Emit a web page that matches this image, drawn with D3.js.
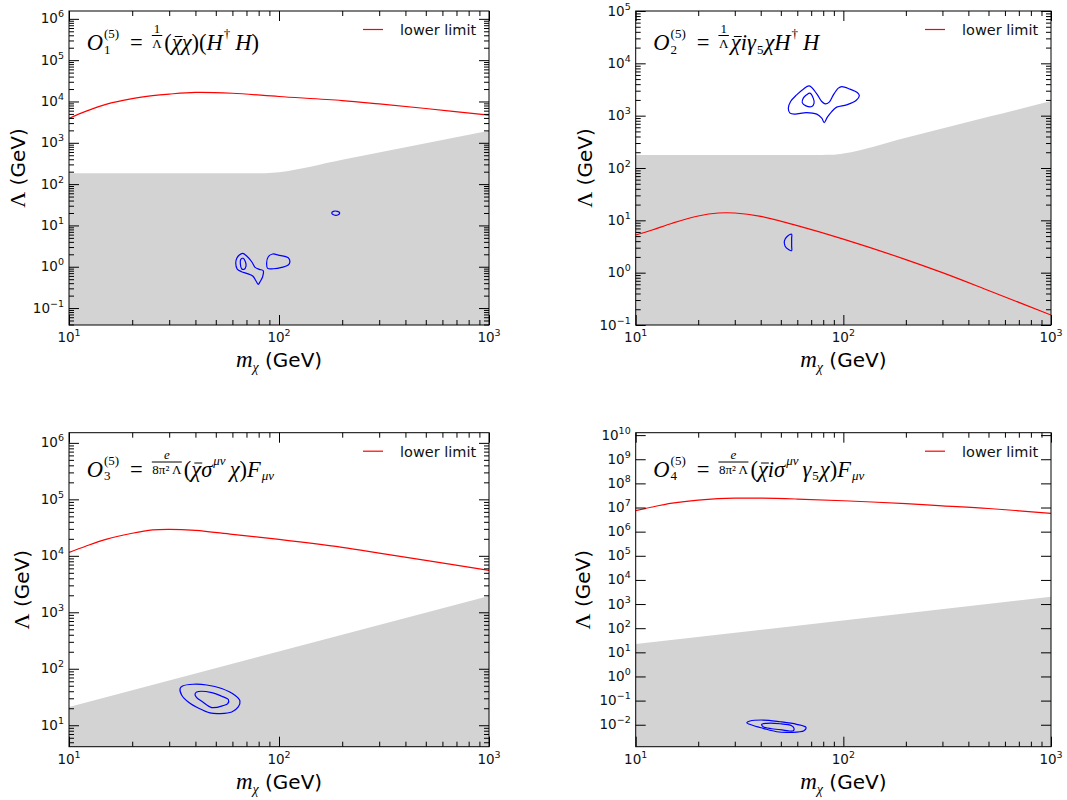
<!DOCTYPE html>
<html lang="en">
<head>
<meta charset="utf-8">
<title>Dimension-5 operators: lower limits on Lambda</title>
<script src="https://cdnjs.cloudflare.com/ajax/libs/d3/7.8.5/d3.min.js"></script>
<style>
	body { margin: 0; background: #fff; }
	text { font-family: "DejaVu Sans", sans-serif; }
	.math { font-family: "Liberation Serif", "DejaVu Serif", serif; }
</style>
</head>
<body>
<script>

//dark matter masses where the lower limit curves were read (GeV)
var massPts = [10, 12, 15, 20, 25, 30, 40, 60, 100, 200, 300, 500, 1000];

//lower limit on Lambda (GeV), one array per operator
var limitO1 = [3890, 5750, 8510, 11700, 13800, 15100, 16600, 15800, 13200, 10500, 8710, 6760, 4680];
var limitO2 = [5.25, 6.55, 8.81, 12.1, 13.8, 13.8, 11.9, 7.9, 4.37, 1.78, 1.00, 0.457, 0.155];
var limitO3 = [11500, 14800, 19500, 25100, 28800, 29500, 28200, 24000, 19500, 14100, 11200, 8320, 5500];
var limitO4 = [7.41e6, 1.05e7, 1.51e7, 2.04e7, 2.34e7, 2.45e7, 2.45e7, 2.24e7, 1.91e7, 1.45e7, 1.18e7, 9.1e6, 5.75e6];

//edge of the grey excluded band [m, Lambda]
var bandO1 = [[10, 182], [78, 182], [86, 183], [93, 188], [100, 195], [200, 390], [500, 975], [1000, 1950]];
var bandO2 = [[10, 178], [79, 178], [87, 179], [94, 184], [100, 190], [200, 380], [500, 950], [1000, 1900]];
var bandO3 = [[10, 21], [1000, 1950]];
var bandO4 = [[10, 22], [1000, 2000]];

//blue contours, each point is [log10 m, log10 Lambda]
var contoursO1 = [
	[[1.827,0.324],[1.846,0.259],[1.870,0.121],[1.886,-0.015],[1.906,-0.063],[1.925,-0.097],[1.922,-0.242],[1.910,-0.363],[1.901,-0.426],[1.890,-0.339],[1.875,-0.225],[1.846,-0.160],[1.822,-0.121],[1.801,-0.056],[1.794,0.082],[1.799,0.203],[1.811,0.283]],
	[[1.818,0.179],[1.830,0.203],[1.840,0.121],[1.843,0.017],[1.833,-0.063],[1.822,-0.048],[1.816,0.065]],
	[[1.941,0.082],[1.949,0.242],[1.970,0.308],[1.997,0.283],[2.044,0.218],[2.052,0.121],[2.044,0.041],[2.013,-0.015],[1.973,-0.048],[1.946,-0.039]],
	[[2.251,1.300],[2.259,1.341],[2.278,1.341],[2.289,1.307],[2.282,1.259],[2.262,1.252]]
];
var contoursO2 = [
	[[1.836,3.570],[1.872,3.417],[1.896,3.270],[1.912,3.226],[1.932,3.258],[1.952,3.398],[1.976,3.526],[1.992,3.556],[2.032,3.507],[2.067,3.442],[2.077,3.379],[2.061,3.289],[2.016,3.207],[1.968,3.163],[1.944,3.078],[1.923,2.971],[1.908,2.868],[1.896,2.952],[1.872,3.029],[1.823,3.059],[1.767,3.029],[1.743,3.048],[1.735,3.143],[1.746,3.270],[1.775,3.398],[1.807,3.507]],
	[[1.823,3.398],[1.839,3.430],[1.855,3.335],[1.859,3.239],[1.848,3.174],[1.820,3.187],[1.802,3.250],[1.807,3.335]],
	[[1.751,0.734],[1.729,0.692],[1.716,0.606],[1.719,0.511],[1.736,0.444],[1.751,0.421],[1.751,0.500],[1.751,0.580],[1.751,0.660]]
];
var contoursO3 = [
	[[1.529,1.650],[1.541,1.696],[1.592,1.726],[1.656,1.713],[1.727,1.650],[1.790,1.531],[1.814,1.430],[1.806,1.324],[1.775,1.235],[1.719,1.207],[1.671,1.218],[1.620,1.296],[1.568,1.412],[1.537,1.531]],
	[[1.600,1.549],[1.608,1.589],[1.680,1.579],[1.727,1.513],[1.759,1.455],[1.756,1.384],[1.735,1.349],[1.680,1.313],[1.637,1.412],[1.608,1.490]]
];
var contoursO4 = [
	[[1.535,-1.917],[1.550,-1.847],[1.614,-1.805],[1.695,-1.876],[1.775,-1.983],[1.820,-2.108],[1.810,-2.249],[1.743,-2.315],[1.679,-2.290],[1.614,-2.149],[1.559,-2.012]],
	[[1.607,-1.983],[1.631,-1.942],[1.695,-1.959],[1.751,-2.041],[1.762,-2.137],[1.759,-2.249],[1.711,-2.220],[1.655,-2.166],[1.614,-2.083]]
];

//operator formulas, laid out piece by piece (bar = overline)
var formulaO1 = [{s:"O",it:1},{sub:"1",sup:"(5)"},{gap:10},{s:"="},{gap:8},{frac:["1","Λ"]},{s:"("},{s:"χ",it:1,bar:1},{s:"χ",it:1},{s:")("},{s:"H",it:1},{sup:"†"},{gap:4},{s:"H",it:1},{s:")"}];
var formulaO2 = [{s:"O",it:1},{sub:"2",sup:"(5)"},{gap:10},{s:"="},{gap:8},{frac:["1","Λ"]},{s:"χ",it:1,bar:1},{s:"iγ",it:1},{sub:"5"},{s:"χH",it:1},{sup:"†"},{gap:4},{s:"H",it:1}];
var formulaO3 = [{s:"O",it:1},{sub:"3",sup:"(5)"},{gap:10},{s:"="},{gap:8},{frac:["e","8π²\u2009Λ"],numIt:1},{s:"("},{s:"χ",it:1,bar:1},{s:"σ",it:1},{sup:"μν"},{gap:3},{s:"χ",it:1},{s:")"},{s:"F",it:1},{sub:"μν"}];
var formulaO4 = [{s:"O",it:1},{sub:"4",sup:"(5)"},{gap:10},{s:"="},{gap:8},{frac:["e","8π²\u2009Λ"],numIt:1},{s:"("},{s:"χ",it:1,bar:1},{s:"iσ",it:1},{sup:"μν"},{gap:3},{s:"γ",it:1},{sub:"5"},{s:"χ",it:1},{s:")"},{s:"F",it:1},{sub:"μν"}];

//panel layout
var panels = [
	{left: 69, right: 489, top: 11, bottom: 325, yDom: [Math.pow(10,-1.41), Math.pow(10,6.19)], yMinor: true,
	 limit: limitO1, band: bandO1, contours: contoursO1, formula: formulaO1, fx: 86.7, fy: 50, labX: 24.5},
	{left: 635.7, right: 1051, top: 11, bottom: 325, yDom: [0.1, 1e5], yMinor: true,
	 limit: limitO2, band: bandO2, contours: contoursO2, formula: formulaO2, fx: 653.3, fy: 50, labX: 591.5},
	{left: 69, right: 489, top: 432.7, bottom: 746.7, yDom: [Math.pow(10,0.62), Math.pow(10,6.18)], yMinor: true,
	 limit: limitO3, band: bandO3, contours: contoursO3, formula: formulaO3, fx: 86.7, fy: 476.5, labX: 29},
	{left: 635.7, right: 1051, top: 432.7, bottom: 746.7, yDom: [Math.pow(10,-2.91), Math.pow(10,10.1)], yMinor: false,
	 limit: limitO4, band: bandO4, contours: contoursO4, formula: formulaO4, fx: 653.3, fy: 476.5, labX: 590}
];

var w = 1067;
var h = 800;

var svg = d3.select("body")
			.append("svg")
			.attr("width", w)
			.attr("height", h);

function majorTicks(dom) {
	var out = [];
	var lo = Math.ceil(Math.log10(dom[0]) - 1e-9), hi = Math.floor(Math.log10(dom[1]) + 1e-9);
	for (var k = lo; k <= hi; k++) out.push(Math.pow(10, k));
	return out;
}

function minorTicks(dom) {
	var out = [];
	var lo = Math.floor(Math.log10(dom[0])), hi = Math.ceil(Math.log10(dom[1]));
	for (var k = lo; k <= hi; k++) {
		for (var j = 2; j <= 9; j++) {
			var v = j * Math.pow(10, k);
			if (v >= dom[0] && v <= dom[1]) out.push(v);
		}
	}
	return out;
}

//label like 10^k
function powLabel(sel, v) {
	var e = Math.round(Math.log10(v));
	sel.text("10");
	sel.append("tspan")
	   .attr("font-size", 9.5)
	   .attr("dy", -6)
	   .text(String(e).replace("-", "\u2212"));
}

function drawFormula(g, x0, y0, toks) {
	var cx = x0;
	toks.forEach(function(tk) {
		if (tk.gap) {
			cx += tk.gap;
		} else if (tk.frac) {
			var num = g.append("text").attr("class", "math")
					   .attr("font-size", 13)
					   .attr("text-anchor", "middle")
					   .style("font-style", tk.numIt ? "italic" : "normal")
					   .text(tk.frac[0]);
			var den = g.append("text").attr("class", "math")
					   .attr("font-size", 13)
					   .attr("text-anchor", "middle")
					   .text(tk.frac[1]);
			var fw = Math.max(num.node().getComputedTextLength(), den.node().getComputedTextLength()) + 1;
			num.attr("x", cx + 1 + fw / 2).attr("y", y0 - 17.5);
			den.attr("x", cx + 1 + fw / 2).attr("y", y0 - 2.5);
			g.append("line")
			 .attr("x1", cx + 1).attr("x2", cx + 1 + fw)
			 .attr("y1", y0 - 14.5).attr("y2", y0 - 14.5)
			 .attr("stroke", "black").attr("stroke-width", 1);
			cx += fw + 3;
		} else if (tk.sub != null || tk.sup != null) {
			var sw = 0;
			if (tk.sub != null) {
				var t1 = g.append("text").attr("class", "math")
						  .attr("x", cx + 1).attr("y", y0 + 3.5)
						  .attr("font-size", 13)
						  .style("font-style", /[0-9]/.test(tk.sub) ? "normal" : "italic")
						  .text(tk.sub);
				sw = Math.max(sw, t1.node().getComputedTextLength());
			}
			if (tk.sup != null) {
				var t2 = g.append("text").attr("class", "math")
						  .attr("x", cx + 1).attr("y", y0 - 12)
						  .attr("font-size", 13)
						  .style("font-style", /[(0-9†]/.test(tk.sup) ? "normal" : "italic")
						  .text(tk.sup);
				sw = Math.max(sw, t2.node().getComputedTextLength());
			}
			cx += sw + 2;
		} else {
			var t = g.append("text").attr("class", "math")
					 .attr("x", cx).attr("y", y0)
					 .attr("font-size", 22.5)
					 .style("font-style", tk.it ? "italic" : "normal")
					 .text(tk.s);
			var tw = t.node().getComputedTextLength();
			if (tk.bar) {
				g.append("line")
				 .attr("x1", cx + 3).attr("x2", cx + tw + 1)
				 .attr("y1", y0 - 13.5).attr("y2", y0 - 13.5)
				 .attr("stroke", "black").attr("stroke-width", 1);
			}
			cx += tw;
		}
	});
}

panels.forEach(function(p, i) {

	var x = d3.scaleLog().domain([10, 1000]).range([p.left, p.right]);
	var y = d3.scaleLog().domain(p.yDom).range([p.bottom, p.top]);

	var g = svg.append("g");

	g.append("clipPath")
	 .attr("id", "clip" + i)
	 .append("rect")
	 .attr("x", p.left).attr("y", p.top)
	 .attr("width", p.right - p.left).attr("height", p.bottom - p.top);

	var plot = g.append("g").attr("clip-path", "url(#clip" + i + ")");

	//grey band
	var area = d3.area()
				 .x(function(d) { return x(d[0]); })
				 .y0(p.bottom + 5)
				 .y1(function(d) { return y(d[1]); })
				 .curve(d3.curveMonotoneX);
	plot.append("path")
		.datum(p.band)
		.attr("d", area)
		.attr("fill", "#d3d3d3");

	//lower limit
	var line = d3.line()
				 .x(function(d, j) { return x(massPts[j]); })
				 .y(function(d) { return y(d); })
				 .curve(d3.curveCatmullRom.alpha(0.5));
	plot.append("path")
		.datum(p.limit)
		.attr("d", line)
		.attr("fill", "none")
		.attr("stroke", "#ff0000")
		.attr("stroke-width", 1.2);

	//contours
	var ring = d3.line()
				 .x(function(d) { return x(Math.pow(10, d[0])); })
				 .y(function(d) { return y(Math.pow(10, d[1])); })
				 .curve(d3.curveCatmullRomClosed.alpha(0.5));
	plot.selectAll(".contour")
		.data(p.contours)
		.enter()
		.append("path")
		.attr("class", "contour")
		.attr("d", ring)
		.attr("fill", "none")
		.attr("stroke", "#0000ff")
		.attr("stroke-width", 1.2);

	//frame
	g.append("rect")
	 .attr("x", p.left).attr("y", p.top)
	 .attr("width", p.right - p.left).attr("height", p.bottom - p.top)
	 .attr("fill", "none")
	 .attr("stroke", "black")
	 .attr("stroke-width", 1);

	//inward ticks on all four sides
	var xMaj = majorTicks([10, 1000]), xMin = minorTicks([10, 1000]);
	var yMaj = majorTicks(p.yDom), yMin = p.yMinor ? minorTicks(p.yDom) : [];
	var sides = [
		[d3.axisBottom(x), "translate(0," + p.bottom + ")", xMaj, xMin],
		[d3.axisTop(x), "translate(0," + p.top + ")", xMaj, xMin],
		[d3.axisLeft(y), "translate(" + p.left + ",0)", yMaj, yMin],
		[d3.axisRight(y), "translate(" + p.right + ",0)", yMaj, yMin]
	];
	sides.forEach(function(s) {
		[[s[2], -10], [s[3], -5]].forEach(function(t) {
			if (!t[0].length) return;
			g.append("g")
			 .attr("transform", s[1])
			 .call(s[0].tickValues(t[0]).tickSizeInner(t[1]).tickSizeOuter(0).tickFormat(""))
			 .call(function(a) { a.select(".domain").remove(); })
			 .selectAll("line").attr("stroke", "black").attr("stroke-width", 1);
		});
	});

	//tick labels
	g.selectAll(".xlab")
	 .data(xMaj)
	 .enter()
	 .append("text")
	 .attr("class", "xlab")
	 .attr("x", function(d) { return x(d); })
	 .attr("y", p.bottom + 17)
	 .attr("text-anchor", "middle")
	 .attr("font-size", 13.5)
	 .attr("fill", "#111")
	 .each(function(d) { powLabel(d3.select(this), d); });

	g.selectAll(".ylab")
	 .data(yMaj)
	 .enter()
	 .append("text")
	 .attr("class", "ylab")
	 .attr("x", p.left - 5)
	 .attr("y", function(d) { return y(d) + 4.5; })
	 .attr("text-anchor", "end")
	 .attr("font-size", 13.5)
	 .attr("fill", "#111")
	 .each(function(d) { powLabel(d3.select(this), d); });

	//axis titles
	var xt = g.append("text")
			  .attr("x", (p.left + p.right) / 2)
			  .attr("y", p.bottom + 42.4)
			  .attr("text-anchor", "middle")
			  .attr("font-size", 20);
	xt.append("tspan").attr("class", "math").style("font-style", "italic").attr("font-size", 23).text("m");
	xt.append("tspan").attr("class", "math").style("font-style", "italic").attr("font-size", 14).attr("dy", 5).text("χ");
	xt.append("tspan").attr("dy", -5).text("\u00a0(GeV)");

	var cy = (p.top + p.bottom) / 2;
	var yt = g.append("text")
			  .attr("transform", "translate(" + p.labX + "," + cy + ") rotate(-90)")
			  .attr("text-anchor", "middle")
			  .attr("font-size", 20);
	yt.append("tspan").attr("class", "math").attr("font-size", 22).text("Λ");
	yt.append("tspan").text("\u00a0(GeV)");

	//legend
	g.append("line")
	 .attr("x1", p.right - 126).attr("x2", p.right - 106)
	 .attr("y1", p.top + 18.5).attr("y2", p.top + 18.5)
	 .attr("stroke", "#ff0000")
	 .attr("stroke-width", 1.2);
	g.append("text")
	 .attr("x", p.right - 89)
	 .attr("y", p.top + 24)
	 .attr("font-size", 14.5)
	 .attr("fill", "#111")
	 .text("lower limit");

	//operator
	drawFormula(g, p.fx, p.fy, p.formula);
});

</script>
</body>
</html>
